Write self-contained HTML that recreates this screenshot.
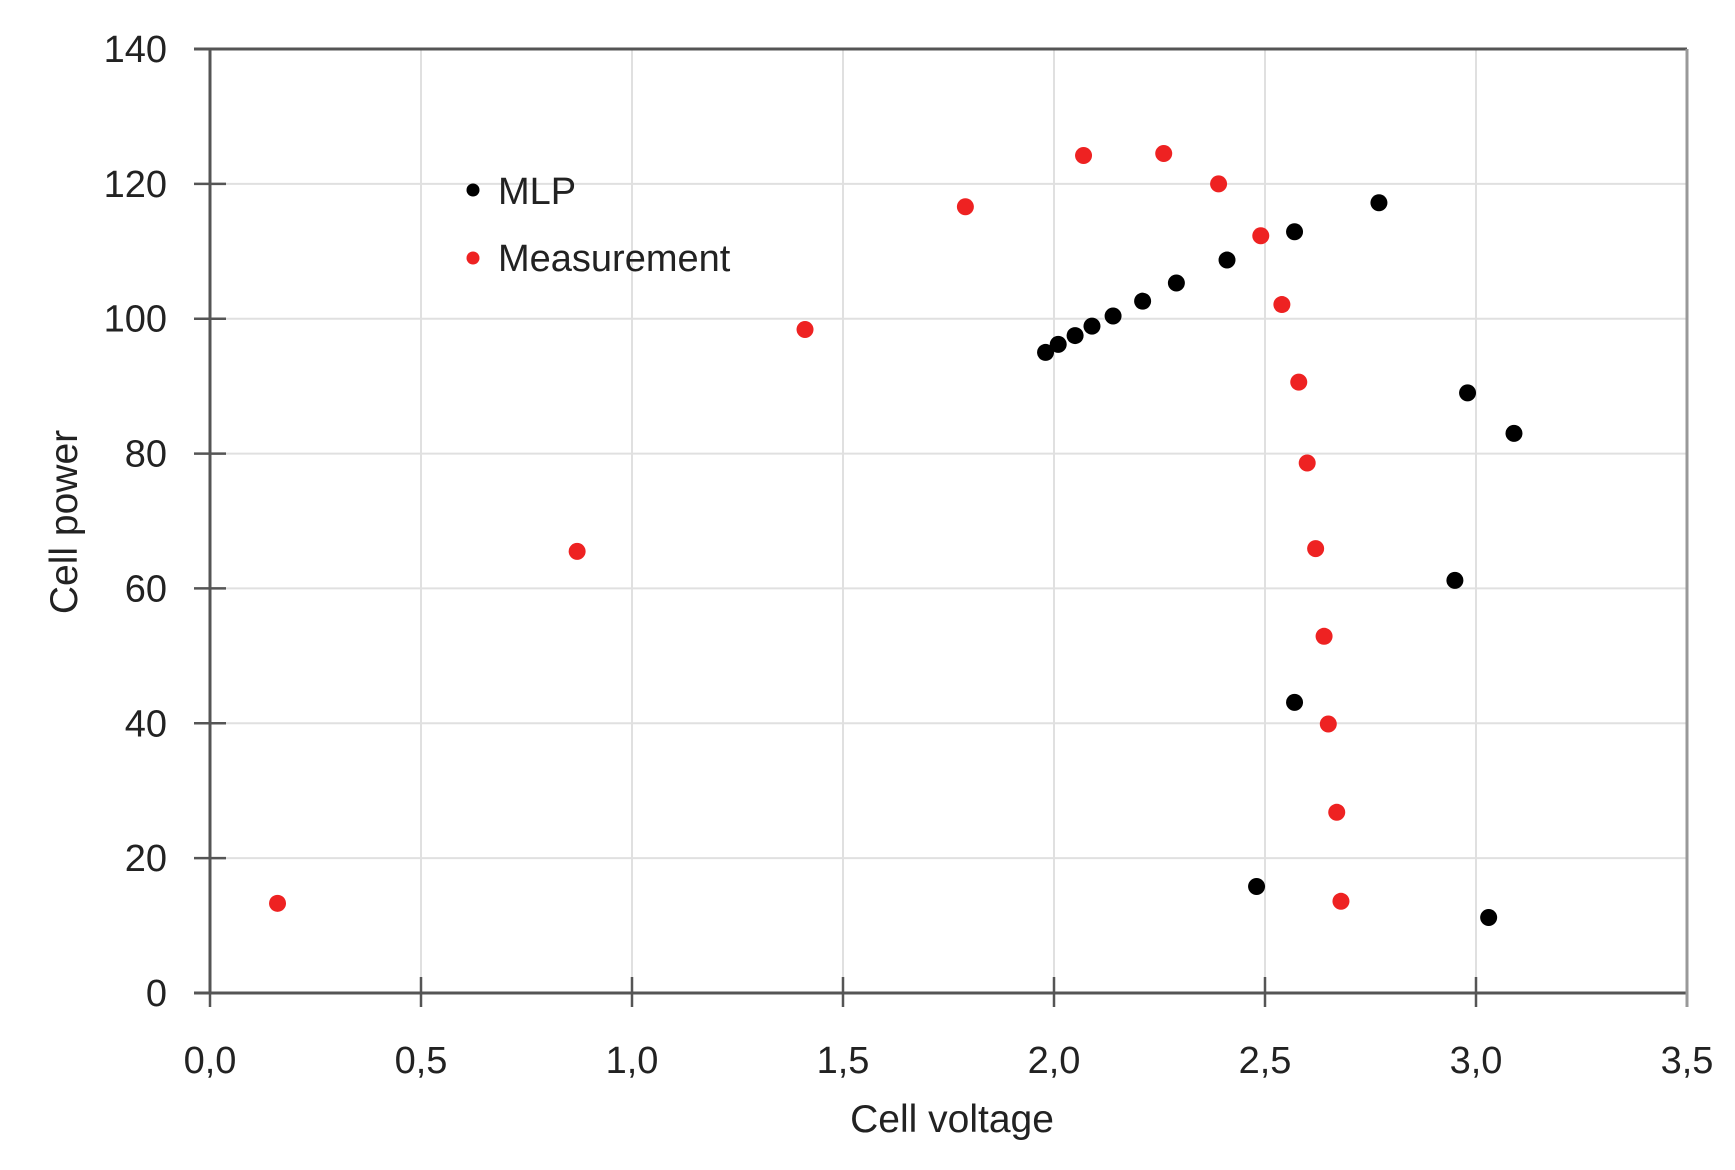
<!DOCTYPE html>
<html><head><meta charset="utf-8"><style>
html,body{margin:0;padding:0;background:#fff;}
svg text{font-family:"Liberation Sans",sans-serif;fill:#222;}
</style></head><body>
<svg id="chart" width="1735" height="1165" viewBox="0 0 1735 1165" xmlns="http://www.w3.org/2000/svg">
<g id="grid"></g>
<g id="axes"></g>
<g id="marks"></g>
<g>
  <circle cx="473" cy="190" r="6.5" fill="#000"/>
  <text x="498" y="204" font-size="38">MLP</text>
  <circle cx="473" cy="258" r="6.5" fill="#ee2222"/>
  <text x="498" y="271" font-size="38">Measurement</text>
</g>
<text transform="translate(77,522) rotate(-90)" text-anchor="middle" font-size="39">Cell power</text>
<text x="952" y="1132" text-anchor="middle" font-size="39">Cell voltage</text>
</svg>
<script>
const xTicks = [0, 0.5, 1.0, 1.5, 2.0, 2.5, 3.0, 3.5];
const yTicks = [0, 20, 40, 60, 80, 100, 120, 140];
const mlpX = [1.98, 2.01, 2.05, 2.09, 2.14, 2.21, 2.29, 2.41, 2.57, 2.77, 2.98, 3.09, 2.95, 2.57, 2.48, 3.03];
const mlpY = [95, 96.2, 97.5, 98.9, 100.4, 102.6, 105.3, 108.7, 112.9, 117.2, 89, 83, 61.2, 43.1, 15.8, 11.2];
const measX = [0.16, 0.87, 1.41, 1.79, 2.07, 2.26, 2.39, 2.49, 2.54, 2.58, 2.60, 2.62, 2.64, 2.65, 2.67, 2.68];
const measY = [13.3, 65.5, 98.4, 116.6, 124.2, 124.5, 120, 112.3, 102.1, 90.6, 78.6, 65.9, 52.9, 39.9, 26.8, 13.6];

const X0 = 210, X1 = 1687, Y0 = 993, Y1 = 49;
function sx(v){ return X0 + (v - 0) / 3.5 * (X1 - X0); }
function sy(v){ return Y0 - v / 140 * (Y0 - Y1); }
const NS = "http://www.w3.org/2000/svg";
function mk(tag, attrs, parent){
  const e = document.createElementNS(NS, tag);
  for (const k in attrs) e.setAttribute(k, attrs[k]);
  parent.appendChild(e); return e;
}
const grid = document.getElementById('grid');
const axes = document.getElementById('axes');
const marks = document.getElementById('marks');

xTicks.forEach(t => {
  const x = sx(t);
  if (t > 0 && t < 3.5) {
    const g = mk('line', {x1:x, x2:x, y1:Y1, y2:Y0, stroke:'#e0e0e0', 'stroke-width':2}, grid);
    
    
  }
  const tk = mk('line', {x1:x, x2:x, y1:Y0-16, y2:Y0+14, stroke:'#555', 'stroke-width':2.5}, axes);
  
  
  const lb = mk('text', {x:x, y:1073, 'text-anchor':'middle', 'font-size':38}, axes);
  lb.textContent = t.toFixed(1).replace('.', ',');
  
  
});
yTicks.forEach(t => {
  const y = sy(t);
  if (t > 0 && t < 140) {
    const g = mk('line', {x1:X0, x2:X1, y1:y, y2:y, stroke:'#e0e0e0', 'stroke-width':2}, grid);
    
    
  }
  const tk = mk('line', {x1:X0-16, x2:X0+16, y1:y, y2:y, stroke:'#555', 'stroke-width':2.5}, axes);
  
  
  const lb = mk('text', {x:167, y:y+13, 'text-anchor':'end', 'font-size':38}, axes);
  lb.textContent = String(t);
  
  
});
const ax1 = mk('line', {x1:X0, x2:X0, y1:Y1, y2:Y0, stroke:'#555', 'stroke-width':3}, axes);


const ax2 = mk('line', {x1:X0-16, x2:X1, y1:Y0, y2:Y0, stroke:'#555', 'stroke-width':3}, axes);


const ax3 = mk('line', {x1:X0-16, x2:X1, y1:Y1, y2:Y1, stroke:'#555', 'stroke-width':3}, axes);


const ax4 = mk('line', {x1:X1, x2:X1, y1:Y1, y2:Y0+14, stroke:'#999', 'stroke-width':3}, axes);



measX.forEach((v, i) => {
  const c = mk('circle', {cx:sx(v), cy:sy(measY[i]), r:8.5, fill:'#ee2222'}, marks);
  
  
});
mlpX.forEach((v, i) => {
  const c = mk('circle', {cx:sx(v), cy:sy(mlpY[i]), r:8.5, fill:'#000'}, marks);
  
  
});
</script>
</body></html>
